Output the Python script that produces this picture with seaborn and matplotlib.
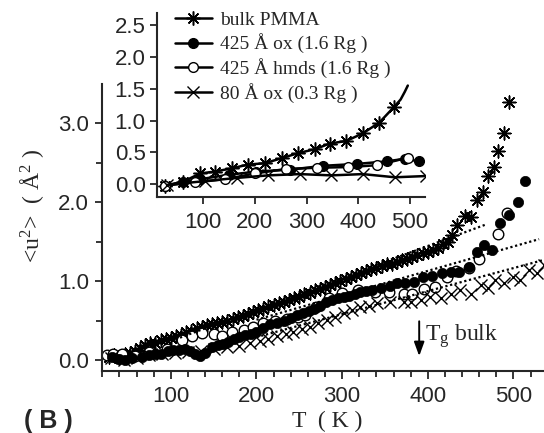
import numpy as np
import pandas as pd
import seaborn as sns
import matplotlib.pyplot as plt
from matplotlib.ticker import MultipleLocator, FormatStrFormatter

# main panel, values (T in K, <u^2> in A^2)
bulk_T = [28, 34, 40, 46, 52, 58, 64, 70, 76, 82, 88, 94, 100, 106, 112, 118, 124, 130, 136, 142,
          148, 154, 160, 166, 172, 178, 184, 190, 196, 202, 208, 214, 220, 226, 232, 238, 244, 250,
          256, 262, 268, 274, 280, 286, 292, 298, 304, 310, 316, 322, 328, 334, 340, 346, 352, 358,
          364, 370, 376, 382, 388, 394, 400, 406, 412, 418, 424, 428, 434, 444, 451, 458, 464, 470,
          477, 482, 489, 495]
bulk_u = [0.04, 0.06, 0.03, 0.07, 0.09, 0.12, 0.15, 0.19, 0.21, 0.22, 0.25, 0.26, 0.28, 0.30, 0.32,
          0.35, 0.37, 0.40, 0.42, 0.44, 0.45, 0.47, 0.48, 0.50, 0.52, 0.54, 0.56, 0.58, 0.61, 0.63,
          0.65, 0.68, 0.70, 0.72, 0.74, 0.76, 0.78, 0.80, 0.83, 0.85, 0.88, 0.90, 0.93, 0.95, 0.98,
          1.00, 1.03, 1.05, 1.08, 1.10, 1.13, 1.15, 1.17, 1.19, 1.21, 1.22, 1.24, 1.26, 1.28, 1.30,
          1.33, 1.35, 1.37, 1.39, 1.42, 1.47, 1.50, 1.58, 1.71, 1.82, 1.81, 2.02, 2.13, 2.33, 2.44,
          2.65, 2.88, 3.26]

ox_T = [31, 40, 47, 55, 66, 75, 82, 89, 97, 103, 109, 116, 122, 128, 134, 140, 148, 155, 161, 167,
        174, 180, 187, 194, 200, 208, 216, 224, 232, 240, 247, 254, 261, 267, 274, 281, 288, 295,
        302, 308, 315, 321, 328, 335, 345, 356, 364, 374, 384, 395, 405, 417, 427, 436, 448, 457,
        466, 475, 484, 495, 505, 514]
ox_u = [0.04, 0.01, 0.00, 0.03, 0.04, 0.06, 0.08, 0.08, 0.11, 0.13, 0.13, 0.14, 0.12, 0.07, 0.05,
        0.09, 0.17, 0.19, 0.20, 0.23, 0.26, 0.29, 0.32, 0.33, 0.35, 0.40, 0.46, 0.47, 0.49, 0.53,
        0.57, 0.60, 0.62, 0.64, 0.69, 0.73, 0.76, 0.78, 0.80, 0.81, 0.84, 0.86, 0.87, 0.89, 0.91,
        0.94, 0.97, 0.97, 0.99, 1.05, 1.06, 1.10, 1.12, 1.11, 1.18, 1.37, 1.45, 1.39, 1.74, 1.84,
        2.00, 2.26]

hmds_T = [25, 33, 43, 58, 75, 95, 113, 125, 136, 150, 160, 171, 185, 196, 208, 222, 236, 248, 257,
          270, 285, 300, 319, 338, 355, 372, 382, 396, 409, 422, 433, 448, 460, 482, 493]
hmds_u = [0.06, 0.08, 0.08, 0.05, 0.10, 0.14, 0.25, 0.30, 0.34, 0.33, 0.30, 0.36, 0.38, 0.42, 0.47,
          0.49, 0.52, 0.55, 0.57, 0.67, 0.78, 0.85, 0.89, 0.86, 0.86, 0.84, 0.84, 0.90, 0.93, 1.05,
          1.13, 1.16, 1.28, 1.59, 1.86]

thin_T = [30, 45, 60, 75, 90, 105, 120, 135, 150, 165, 180, 192, 204, 214, 224, 234, 243, 253, 263,
          272, 282, 292, 302, 312, 321, 331, 341, 356, 372, 380, 392, 403, 415, 427, 438, 450, 462,
          470, 479, 489, 499, 508, 518, 528, 536]
thin_u = [0.02, 0.00, 0.03, 0.06, 0.07, 0.09, 0.10, 0.12, 0.14, 0.17, 0.18, 0.21, 0.24, 0.27, 0.30,
          0.33, 0.36, 0.39, 0.42, 0.47, 0.51, 0.55, 0.59, 0.63, 0.67, 0.69, 0.72, 0.73, 0.74, 0.74,
          0.76, 0.80, 0.78, 0.84, 0.89, 0.84, 0.95, 0.91, 1.01, 0.97, 1.05, 1.01, 1.14, 1.10, 1.20]

# dotted linear fits (end points)
fit_bulk_T = [100, 469]
fit_bulk_u = [0.24, 1.72]
fit_ox_T = [200, 530]
fit_ox_u = [0.51, 1.53]
fit_thin_T = [200, 540]
fit_thin_u = [0.29, 1.28]

# inset curves
in_bulk_T = [26, 61, 94, 123, 155, 187, 219, 252, 284, 316, 345, 377, 409, 441, 470, 482, 490, 496]
in_bulk_u = [-0.02, 0.04, 0.17, 0.20, 0.25, 0.31, 0.33, 0.41, 0.49, 0.55, 0.64, 0.68, 0.80, 0.97,
             1.22, 1.33, 1.45, 1.55]
in_ox_T = [26, 60, 94, 150, 203, 268, 332, 397, 455, 490, 518]
in_ox_u = [-0.03, 0.04, 0.08, 0.15, 0.20, 0.23, 0.29, 0.32, 0.36, 0.40, 0.36]
in_hmds_T = [26, 84, 143, 200, 260, 320, 380, 437, 497]
in_hmds_u = [-0.02, 0.03, 0.08, 0.17, 0.24, 0.26, 0.27, 0.30, 0.42]
in_thin_T = [30, 103, 165, 226, 287, 348, 409, 471, 532]
in_thin_u = [-0.01, 0.05, 0.10, 0.14, 0.16, 0.14, 0.16, 0.11, 0.13]

labels = ["bulk PMMA", "425 Å ox (1.6 Rg )", "425 Å hmds (1.6 Rg )", "80 Å ox (0.3 Rg )"]

sns.set_theme(style="ticks")
plt.rcParams["font.family"] = ["Liberation Sans", "DejaVu Sans"]
plt.rcParams["mathtext.fontset"] = "custom"
plt.rcParams["mathtext.rm"] = "Liberation Serif"
plt.rcParams["mathtext.it"] = "Liberation Serif:italic"
serif = ["Liberation Serif", "DejaVu Serif"]
star = (8, 2, 0)

fig = plt.figure(figsize=(5.44, 4.33), dpi=100)
ax = fig.add_axes([0.187, 0.1432, 0.815, 0.6628])

sns.scatterplot(x=bulk_T, y=bulk_u, ax=ax, marker=star, s=85, color="black", linewidth=1.1)
sns.scatterplot(x=hmds_T, y=hmds_u, ax=ax, marker="o", s=58, color="white", edgecolor="black", linewidth=1.0)
sns.scatterplot(x=ox_T, y=ox_u, ax=ax, marker="o", s=55, color="black", edgecolor="black", linewidth=0.5)
sns.scatterplot(x=thin_T, y=thin_u, ax=ax, marker="x", s=75, color="black", linewidth=1.0)
for ft, fu in [(fit_bulk_T, fit_bulk_u), (fit_ox_T, fit_ox_u), (fit_thin_T, fit_thin_u)]:
    sns.lineplot(x=ft, y=fu, ax=ax, color="black", linewidth=1.6, linestyle=(0, (1, 1.2)))

ax.set_xlim(19.3, 537)
ax.set_ylim(-0.139, 3.494)
ax.xaxis.set_major_locator(MultipleLocator(100))
ax.xaxis.set_minor_locator(MultipleLocator(20))
ax.yaxis.set_major_locator(MultipleLocator(1.0))
ax.yaxis.set_minor_locator(MultipleLocator(0.5))
ax.yaxis.set_major_formatter(FormatStrFormatter("%.1f"))
ax.tick_params(axis="x", which="major", length=6, width=1.3, pad=5, labelsize=16)
ax.tick_params(axis="x", which="minor", length=4, width=1.3)
ax.tick_params(axis="y", which="major", length=5, width=1.3, pad=4, labelsize=16)
ax.tick_params(axis="y", which="minor", length=4, width=1.3)
for side in ["top", "right"]:
    ax.spines[side].set_visible(False)
for side in ["left", "bottom"]:
    ax.spines[side].set_linewidth(1.5)
ax.set_xlabel("")
ax.set_ylabel("")

# Tg marker
ax.annotate("", xy=(390, 0.05), xytext=(390, 0.49),
            arrowprops=dict(arrowstyle="-|>,head_width=0.22,head_length=0.6", color="black",
                            lw=1.4, shrinkA=0, shrinkB=0, mutation_scale=14))
ax.text(397, 0.25, r"T$_{\rm g}$ bulk", fontsize=17, family=serif, va="baseline")

fig.text(327 / 544, 1 - 421 / 433, "T  ( K )", fontsize=17, family=serif, ha="center", va="center")
fig.text(32 / 544, 1 - 206 / 433, r"<u$^{\rm 2}$>  ( Å$^{\rm 2}$ )", fontsize=17, family=serif,
         rotation=90, ha="center", va="center")
fig.text(48 / 544, 1 - 421 / 433, "( B )", fontsize=18, fontweight="bold", ha="center", va="center")

# inset
ax_in = fig.add_axes([0.288, 0.5457, 0.493, 0.425])
ax_in.patch.set_alpha(0)
sns.lineplot(x=in_bulk_T, y=in_bulk_u, ax=ax_in, color="black", linewidth=1.8, marker=star,
             markersize=10, markeredgecolor="black", markeredgewidth=1.1,
             markevery=list(range(15)), label=labels[0])
sns.lineplot(x=in_ox_T, y=in_ox_u, ax=ax_in, color="black", linewidth=1.8, marker="o",
             markersize=7, markerfacecolor="black", markeredgecolor="black",
             markeredgewidth=1.0, label=labels[1])
sns.lineplot(x=in_hmds_T, y=in_hmds_u, ax=ax_in, color="black", linewidth=1.8, marker="o",
             markersize=7, markerfacecolor="white", markeredgecolor="black",
             markeredgewidth=1.0, label=labels[2])
sns.lineplot(x=in_thin_T, y=in_thin_u, ax=ax_in, color="black", linewidth=1.8, marker="x",
             markersize=9, markeredgecolor="black", markeredgewidth=1.0, label=labels[3])

ax_in.set_xlim(10, 529)
ax_in.set_ylim(-0.195, 2.694)
ax_in.xaxis.set_major_locator(MultipleLocator(100))
ax_in.yaxis.set_major_locator(MultipleLocator(0.5))
ax_in.yaxis.set_major_formatter(FormatStrFormatter("%.1f"))
ax_in.tick_params(axis="x", length=5, width=1.3, pad=6, labelsize=16)
ax_in.tick_params(axis="y", length=5, width=1.3, pad=3, labelsize=16)
for side in ["top", "right"]:
    ax_in.spines[side].set_visible(False)
for side in ["left", "bottom"]:
    ax_in.spines[side].set_linewidth(1.5)
ax_in.set_xlabel("")
ax_in.set_ylabel("")
ax_in.legend(loc="upper left", bbox_to_anchor=(175 / 544, 1 - 11 / 433),
             bbox_transform=fig.transFigure, frameon=False, borderpad=0, borderaxespad=0,
             handlelength=1.9, handletextpad=0.4, labelspacing=0.25,
             prop={"family": serif, "size": 14})

fig.savefig("out.png", dpi=100)
